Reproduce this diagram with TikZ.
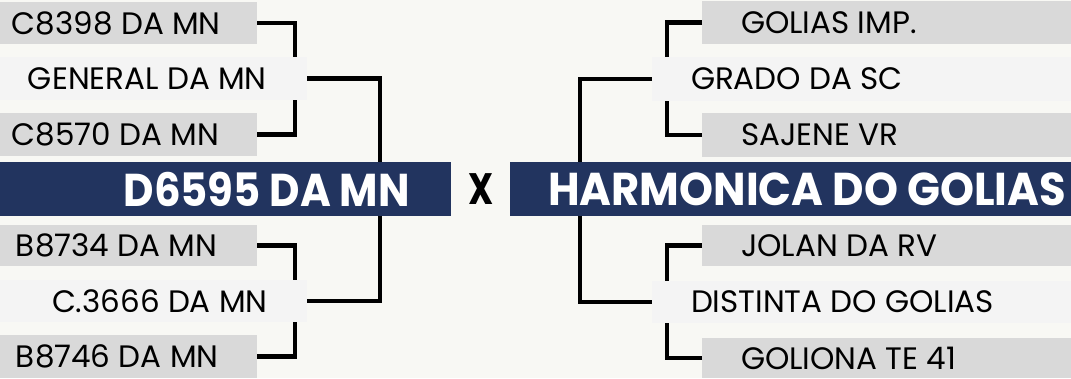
\documentclass[tikz,border=0pt]{standalone}
\usepackage{fontspec}
\setmainfont{Poppins}
\definecolor{bgc}{HTML}{F8F8F4}
\definecolor{boxgray}{HTML}{D9D9D9}
\definecolor{boxlight}{HTML}{F4F4F4}
\definecolor{navy}{HTML}{22345F}
\newcommand{\bxt}[3]{\makebox[#1pt][l]{\hspace*{#2pt}#3}}
\begin{document}
\begin{tikzpicture}[x=1pt,y=-1pt,
  box/.style={anchor=north west, inner sep=0pt, outer sep=0pt, text=black,
    font=\fontsize{31}{31}\selectfont},
  graybox/.style={box, fill=boxgray},
  lightbox/.style={box, fill=boxlight},
  bar/.style={anchor=north west, inner sep=0pt, outer sep=0pt, fill=navy, minimum height=54pt},
  bigtxt/.style={inner sep=0pt, text=white, font=\fontsize{46}{46}\selectfont\bfseries},
  conn/.style={line width=4.6pt, line join=miter, draw=black}]
\useasboundingbox (0,0) rectangle (1071,378);
\fill[bgc] (0,0) rectangle (1071,378);
% left boxes
\node[graybox, minimum height=42pt] (c8398) at (0,2) {\bxt{257}{12}{C8398 DA MN}};
\node[lightbox, minimum height=43pt] (general) at (0,57) {\bxt{307}{28}{GENERAL DA MN}};
\node[graybox, minimum height=43pt] (c8570) at (0,113) {\bxt{257}{12}{C8570 DA MN}};
\node[graybox, minimum height=41pt] (b8734) at (0,225) {\bxt{257}{16}{B8734 DA MN}};
\node[lightbox, minimum height=42pt] (c3666) at (0,280) {\bxt{307}{52}{C.3666 DA MN}};
\node[graybox, minimum height=43pt] (b8746) at (0,335) {\bxt{257}{16}{B8746 DA MN}};
% right boxes
\node[graybox, minimum height=43pt] (golias) at (702,1) {\bxt{369}{39}{GOLIAS IMP.}};
\node[lightbox, minimum height=44pt] (grado) at (652,57) {\bxt{419}{39}{GRADO DA SC}};
\node[graybox, minimum height=44pt] (sajene) at (702,113) {\bxt{369}{39}{SAJENE VR}};
\node[graybox, minimum height=41pt] (jolan) at (702,225) {\bxt{369}{39}{JOLAN DA RV}};
\node[lightbox, minimum height=42pt] (distinta) at (652,281) {\bxt{419}{39}{DISTINTA DO GOLIAS}};
\node[graybox, minimum height=40pt] (goliona) at (702,338) {\bxt{369}{39}{GOLIONA TE 41}};
% connectors left
\draw[conn] (c8398.east) -| ([xshift=-12pt]general.north east);
\draw[conn] (c8570.east) -| ([xshift=-12pt]general.south east);
\draw[conn] (b8734.east) -| ([xshift=-12pt]c3666.north east);
\draw[conn] (b8746.east) -| ([xshift=-12pt]c3666.south east);
\draw[conn] (general.east) -- ++(73,0) |- (c3666.east);
% connectors right
\draw[conn] (golias.west) -| ([xshift=15pt]grado.north west);
\draw[conn] (sajene.west) -| ([xshift=15pt]grado.south west);
\draw[conn] (jolan.west) -| ([xshift=15pt]distinta.north west);
\draw[conn] (goliona.west) -| ([xshift=15pt]distinta.south west);
\draw[conn] (grado.west) -- ++(-72,0) |- (distinta.west);
% bars
\node[bar, minimum width=451pt] (barL) at (0,162) {};
\node[bar, minimum width=561pt] (barR) at (510,162) {};
\node[bigtxt, anchor=east] (teamL) at ([xshift=-41pt]barL.east) {\scalebox{0.91}[1]{D6595 DA MN}};
\node[bigtxt, anchor=west] (teamR) at ([xshift=38pt]barR.west) {\scalebox{0.94}[1]{HARMONICA DO GOLIAS}};
\node[inner sep=0pt, font=\fontsize{44}{44}\selectfont\bfseries] (vs) at (481,189) {\scalebox{0.8}[1]{X}};
\end{tikzpicture}
\end{document}
